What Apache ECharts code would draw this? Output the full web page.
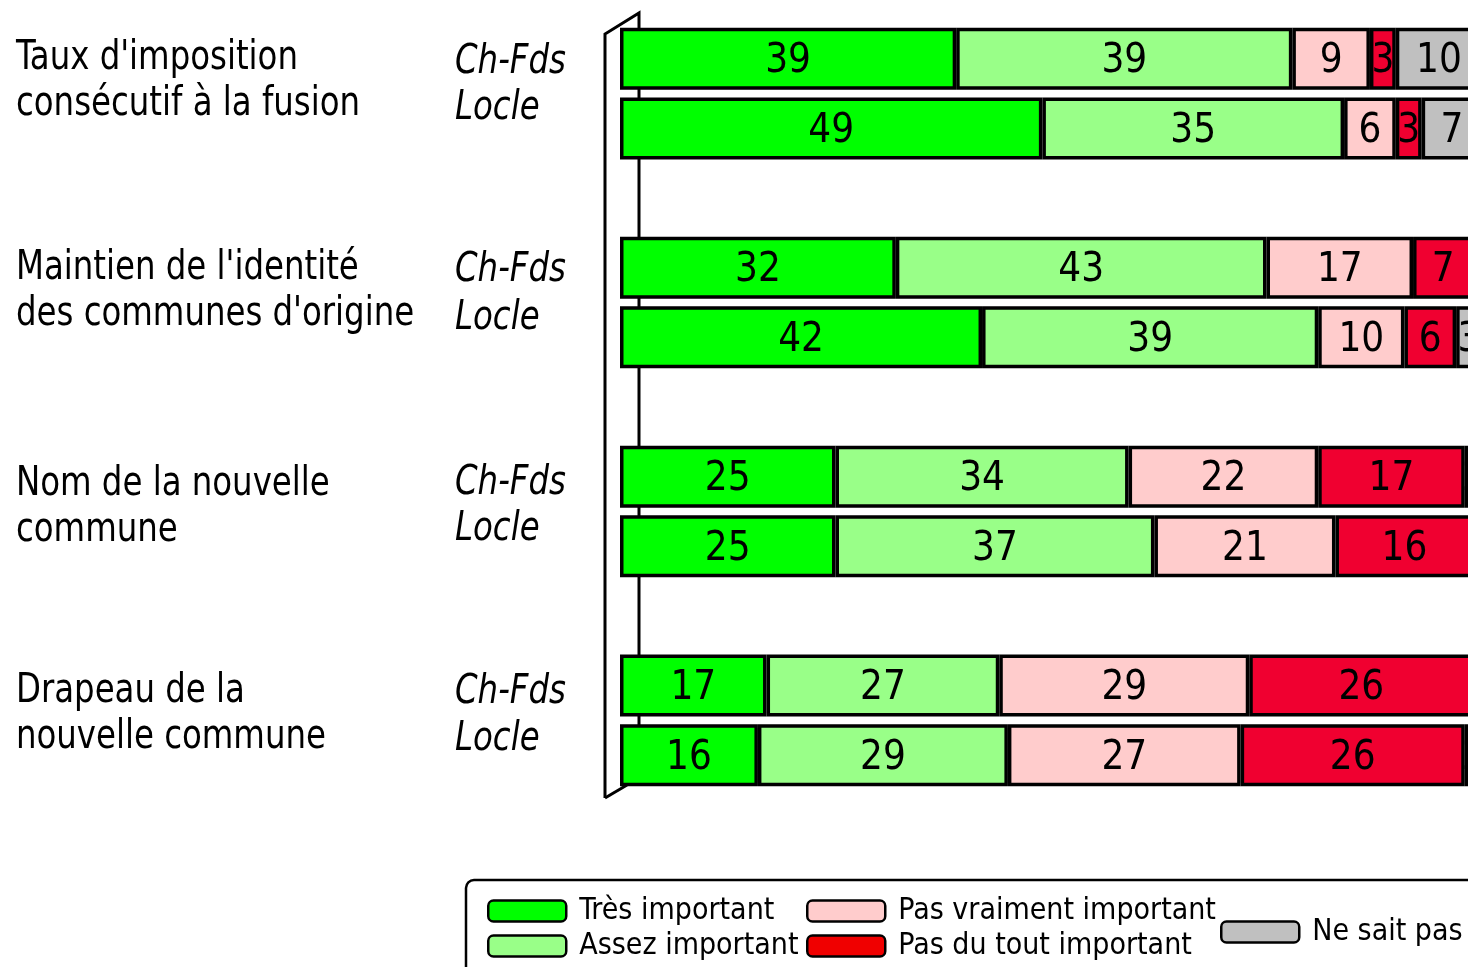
<!DOCTYPE html>
<html><head><meta charset="utf-8">
<script src="https://cdn.jsdelivr.net/npm/echarts@6/dist/echarts.min.js"></script>
<style>html,body{margin:0;padding:0;overflow:hidden;background:#fff}#c{width:1500px;height:967px}</style>
</head><body><div id="c"></div>
<script>
const FONT = '"DejaVu Sans Condensed","Liberation Sans Narrow",sans-serif';
// rows: Ch-Fds / Locle for each topic, with spacer rows between topics
const rowKeys = ['t_cf','t_lo','gap1','m_cf','m_lo','gap2','n_cf','n_lo','gap3','d_cf','d_lo'];
const topics = ["Taux d'imposition\nconsécutif à la fusion", "Maintien de l'identité\ndes communes d'origine", "Nom de la nouvelle\ncommune", "Drapeau de la\nnouvelle commune"];
const places = ['Ch-Fds', 'Locle'];
const seriesNames = ['Très important','Assez important','Pas vraiment important','Pas du tout important','Ne sait pas'];
const tresImportant   = [39,49,'-',32,42,'-',25,25,'-',17,16];
const assezImportant  = [39,35,'-',43,39,'-',34,37,'-',27,29];
const pasVraiment     = [ 9, 6,'-',17,10,'-',22,21,'-',29,27];
const pasDuTout       = [ 3, 3,'-', 7, 6,'-',17,16,'-',26,26];
const neSaitPas       = [10, 7,'-', 1, 3,'-', 2, 1,'-', 1, 2];
const values = [tresImportant, assezImportant, pasVraiment, pasDuTout, neSaitPas];
const colors = ['#00FF00','#99FF88','#FFCCCC','#F00030','#C0C0C0'];
const legendColors = ['#00FF00','#99FF88','#FFCCCC','#F00000','#C0C0C0'];

const chart = echarts.init(document.getElementById('c'));
const series = values.map((v,i)=>({
  name: seriesNames[i], type:'bar', stack:'all', data:v, barWidth:62,
  itemStyle:{color:colors[i], borderColor:'#000', borderWidth:3.5},
  label:{show:true, position:'inside', offset:[0,3], color:'#000', fontSize:40, fontFamily:FONT,
    formatter:p=> (p.value==='-'?'':p.value)},
  emphasis:{disabled:true}
}));
const graphics = [];
// 3D-like wall lines
graphics.push({type:'polyline', z:0, shape:{points:[[605,798],[605,34],[639,13],[639,785]]}, style:{stroke:'#000', lineWidth:3, fill:null}});
graphics.push({type:'line', z:0, shape:{x1:605,y1:798,x2:627,y2:785}, style:{stroke:'#000', lineWidth:3}});
// topic labels
const topicY = [59, 269, 485, 692];
const placeY = [[63,109],[271,319],[484,530],[693,740]];
topics.forEach((t,i)=>{
  t.split('\n').forEach((line,j)=>{
    graphics.push({type:'text', x:16, y:topicY[i]+j*46, scaleX:0.9,
      style:{text:line, font:'40px '+FONT, fill:'#000', verticalAlign:'middle', align:'left'}});
  });
  places.forEach((p,j)=>{
    graphics.push({type:'text', x:455, y:placeY[i][j], scaleX:0.9,
      style:{text:p, font:'italic 40px '+FONT, fill:'#000', verticalAlign:'middle', align:'left'}});
  });
});
// legend box
graphics.push({type:'rect', z:0, shape:{x:466,y:880,width:1100,height:150,r:8}, style:{stroke:'#000', lineWidth:2.5, fill:'#fff'}});

const legendCommon = {orient:'vertical', itemWidth:78, itemHeight:21, itemGap:5, icon:'roundRect', padding:0,
  textStyle:{fontSize:30, fontFamily:FONT, color:'#000', padding:[0,0,0,8]}, selectedMode:false,
  itemStyle:{borderColor:'#000', borderWidth:2.5}};
const legData = names => names.map(n=>({name:n, itemStyle:{color:legendColors[seriesNames.indexOf(n)]}}));
chart.setOption({
  animation:false,
  grid:{left:620, top:24, height:766, width:862},
  xAxis:{type:'value', min:0, max:100, show:false},
  yAxis:{type:'category', data:rowKeys, inverse:true, show:false},
  legend:[
    Object.assign({}, legendCommon, {left:487, top:896, data:legData(seriesNames.slice(0,2))}),
    Object.assign({}, legendCommon, {left:806, top:896, data:legData(seriesNames.slice(2,4))}),
    Object.assign({}, legendCommon, {left:1220, top:917, data:legData(seriesNames.slice(4))})
  ],
  series: series,
  graphic: graphics
});
</script></body></html>
